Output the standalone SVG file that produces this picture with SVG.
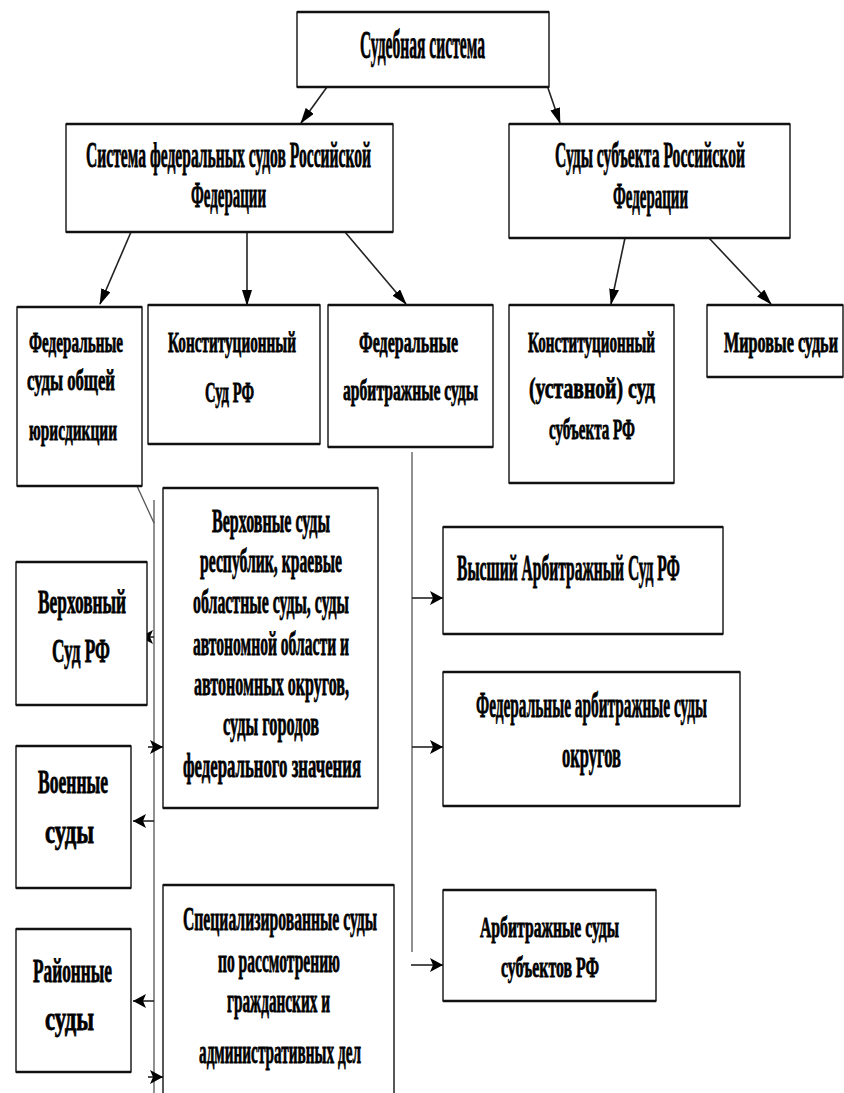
<svg xmlns="http://www.w3.org/2000/svg" width="844" height="1093" viewBox="0 0 844 1093">
<style>
.box{fill:#fff;stroke:#111;stroke-width:1.4}
.edge{fill:none;stroke:#111;stroke-width:2.6}
.t{font-family:"Liberation Serif","Times New Roman",serif;font-weight:bold;fill:#000;stroke:#000;stroke-width:0.8}
.c{fill:none;stroke:#222;stroke-width:1.6}
.g{fill:none;stroke:#555;stroke-width:1.3}
</style>
<defs>
<marker id="ah" markerWidth="16" markerHeight="10" refX="15" refY="5" orient="auto" markerUnits="userSpaceOnUse"><path d="M0,0 L16,5 L0,10 z" fill="#000"/></marker>
<marker id="ah2" markerWidth="13" markerHeight="14" refX="13" refY="7" orient="auto" markerUnits="userSpaceOnUse"><path d="M0,0 L13,7 L0,14 L3,7 z" fill="#000"/></marker>
</defs>
<rect width="844" height="1093" fill="#fff"/>

<g id="connectors">
<line class="c" x1="327" y1="87" x2="301" y2="123" marker-end="url(#ah)"/>
<line class="c" x1="548" y1="88" x2="560" y2="123" marker-end="url(#ah)"/>
<line class="c" x1="131" y1="232" x2="100" y2="304" marker-end="url(#ah)"/>
<line class="c" x1="247" y1="232" x2="247" y2="305" marker-end="url(#ah)"/>
<line class="c" x1="345" y1="232" x2="406" y2="304" marker-end="url(#ah)"/>
<line class="c" x1="625" y1="238" x2="611" y2="304" marker-end="url(#ah)"/>
<line class="c" x1="709" y1="238" x2="771" y2="304" marker-end="url(#ah)"/>
<line class="g" x1="137" y1="486" x2="154" y2="523"/>
<line class="g" x1="154" y1="500" x2="154" y2="1093"/>
<line class="g" x1="412" y1="452" x2="412" y2="952"/>
<line class="c" x1="154" y1="637" x2="140" y2="637" marker-end="url(#ah2)"/>
<line class="c" x1="148" y1="747" x2="163" y2="747" marker-end="url(#ah2)"/>
<line class="c" x1="154" y1="821" x2="133" y2="821" marker-end="url(#ah2)"/>
<line class="c" x1="154" y1="1001" x2="133" y2="1001" marker-end="url(#ah2)"/>
<line class="c" x1="148" y1="1077" x2="163" y2="1077" marker-end="url(#ah2)"/>
<line class="c" x1="412" y1="598" x2="443" y2="598" marker-end="url(#ah2)"/>
<line class="c" x1="412" y1="747" x2="443" y2="747" marker-end="url(#ah2)"/>
<line class="c" x1="411" y1="965" x2="443" y2="965" marker-end="url(#ah2)"/>
</g>

<g id="n-root">
<rect class="box" x="297" y="12" width="252" height="75"/>
<path class="edge" d="M297,12 H549 M297,87 H549"/>
<text class="t" x="360" y="58" font-size="39" textLength="125" lengthAdjust="spacingAndGlyphs">Судебная система</text>
</g>

<g id="n-federal">
<rect class="box" x="66" y="124" width="327" height="108"/>
<path class="edge" d="M66,124 H393 M66,232 H393"/>
<text class="t" x="86" y="167" font-size="35" textLength="285" lengthAdjust="spacingAndGlyphs">Система федеральных судов Российской</text>
<text class="t" x="191" y="207" font-size="35" textLength="75" lengthAdjust="spacingAndGlyphs">Федерации</text>
</g>

<g id="n-subject">
<rect class="box" x="509" y="124" width="281" height="114"/>
<path class="edge" d="M509,124 H790 M509,238 H790"/>
<text class="t" x="555" y="167" font-size="35" textLength="190" lengthAdjust="spacingAndGlyphs">Суды субъекта Российской</text>
<text class="t" x="613" y="208" font-size="35" textLength="75" lengthAdjust="spacingAndGlyphs">Федерации</text>
</g>

<g id="n-general">
<rect class="box" x="17" y="307" width="125" height="179"/>
<path class="edge" d="M17,307 H142 M17,486 H142"/>
<text class="t" x="29" y="352" font-size="29" textLength="94" lengthAdjust="spacingAndGlyphs">Федеральные</text>
<text class="t" x="27" y="390" font-size="29" textLength="88" lengthAdjust="spacingAndGlyphs">суды общей</text>
<text class="t" x="29" y="440" font-size="29" textLength="88" lengthAdjust="spacingAndGlyphs">юрисдикции</text>
</g>

<g id="n-const">
<rect class="box" x="148" y="305" width="172" height="139"/>
<path class="edge" d="M148,305 H320 M148,444 H320"/>
<text class="t" x="168" y="352" font-size="29" textLength="128" lengthAdjust="spacingAndGlyphs">Конституционный</text>
<text class="t" x="205" y="402" font-size="29" textLength="49" lengthAdjust="spacingAndGlyphs">Суд РФ</text>
</g>

<g id="n-arb">
<rect class="box" x="328" y="305" width="165" height="142"/>
<path class="edge" d="M328,305 H493 M328,447 H493"/>
<text class="t" x="359" y="352" font-size="29" textLength="99" lengthAdjust="spacingAndGlyphs">Федеральные</text>
<text class="t" x="343" y="400" font-size="29" textLength="135" lengthAdjust="spacingAndGlyphs">арбитражные суды</text>
</g>

<g id="n-const-subj">
<rect class="box" x="509" y="305" width="165" height="178"/>
<path class="edge" d="M509,305 H674 M509,483 H674"/>
<text class="t" x="528" y="352" font-size="29" textLength="127" lengthAdjust="spacingAndGlyphs">Конституционный</text>
<text class="t" x="529" y="398" font-size="29" textLength="126" lengthAdjust="spacingAndGlyphs">(уставной) суд</text>
<text class="t" x="549" y="439" font-size="29" textLength="86" lengthAdjust="spacingAndGlyphs">субъекта РФ</text>
</g>

<g id="n-mir">
<rect class="box" x="707" y="305" width="136" height="72"/>
<path class="edge" d="M707,305 H843 M707,377 H843"/>
<text class="t" x="724" y="352" font-size="29" textLength="114" lengthAdjust="spacingAndGlyphs">Мировые судьи</text>
</g>

<g id="n-regional">
<rect class="box" x="163" y="488" width="215" height="320"/>
<path class="edge" d="M163,488 H378 M163,808 H378"/>
<text class="t" x="212" y="532" font-size="33" textLength="118" lengthAdjust="spacingAndGlyphs">Верховные суды</text>
<text class="t" x="200" y="572" font-size="33" textLength="142" lengthAdjust="spacingAndGlyphs">республик, краевые</text>
<text class="t" x="193" y="613" font-size="33" textLength="156" lengthAdjust="spacingAndGlyphs">областные суды, суды</text>
<text class="t" x="193" y="655" font-size="33" textLength="156" lengthAdjust="spacingAndGlyphs">автономной области и</text>
<text class="t" x="194" y="695" font-size="33" textLength="155" lengthAdjust="spacingAndGlyphs">автономных округов,</text>
<text class="t" x="223" y="735" font-size="33" textLength="96" lengthAdjust="spacingAndGlyphs">суды городов</text>
<text class="t" x="183" y="777" font-size="33" textLength="178" lengthAdjust="spacingAndGlyphs">федерального значения</text>
</g>

<g id="n-supreme">
<rect class="box" x="16" y="562" width="131" height="143"/>
<path class="edge" d="M16,562 H147 M16,705 H147"/>
<text class="t" x="38" y="613" font-size="33" textLength="88" lengthAdjust="spacingAndGlyphs">Верховный</text>
<text class="t" x="52" y="662" font-size="33" textLength="58" lengthAdjust="spacingAndGlyphs">Суд РФ</text>
</g>

<g id="n-military">
<rect class="box" x="16" y="746" width="115" height="142"/>
<path class="edge" d="M16,746 H131 M16,888 H131"/>
<text class="t" x="38" y="793" font-size="33" textLength="70" lengthAdjust="spacingAndGlyphs">Военные</text>
<text class="t" x="45" y="843" font-size="33" textLength="49" lengthAdjust="spacingAndGlyphs">суды</text>
</g>

<g id="n-district">
<rect class="box" x="16" y="929" width="115" height="143"/>
<path class="edge" d="M16,929 H131 M16,1072 H131"/>
<text class="t" x="33" y="982" font-size="33" textLength="79" lengthAdjust="spacingAndGlyphs">Районные</text>
<text class="t" x="45" y="1030" font-size="33" textLength="49" lengthAdjust="spacingAndGlyphs">суды</text>
</g>

<g id="n-special">
<rect class="box" x="163" y="885" width="231" height="220"/>
<path class="edge" d="M163,885 H394"/>
<text class="t" x="183" y="930" font-size="33" textLength="194" lengthAdjust="spacingAndGlyphs">Специализированные  суды</text>
<text class="t" x="218" y="972" font-size="33" textLength="122" lengthAdjust="spacingAndGlyphs">по рассмотрению</text>
<text class="t" x="227" y="1012" font-size="33" textLength="103" lengthAdjust="spacingAndGlyphs">гражданских и</text>
<text class="t" x="199" y="1063" font-size="33" textLength="162" lengthAdjust="spacingAndGlyphs">административных  дел</text>
</g>

<g id="n-vas">
<rect class="box" x="443" y="527" width="280" height="107"/>
<path class="edge" d="M443,527 H723 M443,634 H723"/>
<text class="t" x="457" y="580" font-size="35" textLength="223" lengthAdjust="spacingAndGlyphs">Высший Арбитражный Суд РФ</text>
</g>

<g id="n-okrug">
<rect class="box" x="443" y="672" width="297" height="134"/>
<path class="edge" d="M443,672 H740 M443,806 H740"/>
<text class="t" x="476" y="717" font-size="35" textLength="231" lengthAdjust="spacingAndGlyphs">Федеральные арбитражные суды</text>
<text class="t" x="562" y="767" font-size="35" textLength="59" lengthAdjust="spacingAndGlyphs">округов</text>
</g>

<g id="n-arb-subj">
<rect class="box" x="443" y="890" width="213" height="111"/>
<path class="edge" d="M443,890 H656 M443,1001 H656"/>
<text class="t" x="480" y="937" font-size="29" textLength="139" lengthAdjust="spacingAndGlyphs">Арбитражные суды</text>
<text class="t" x="501" y="977" font-size="29" textLength="98" lengthAdjust="spacingAndGlyphs">субъектов РФ</text>
</g>
</svg>
